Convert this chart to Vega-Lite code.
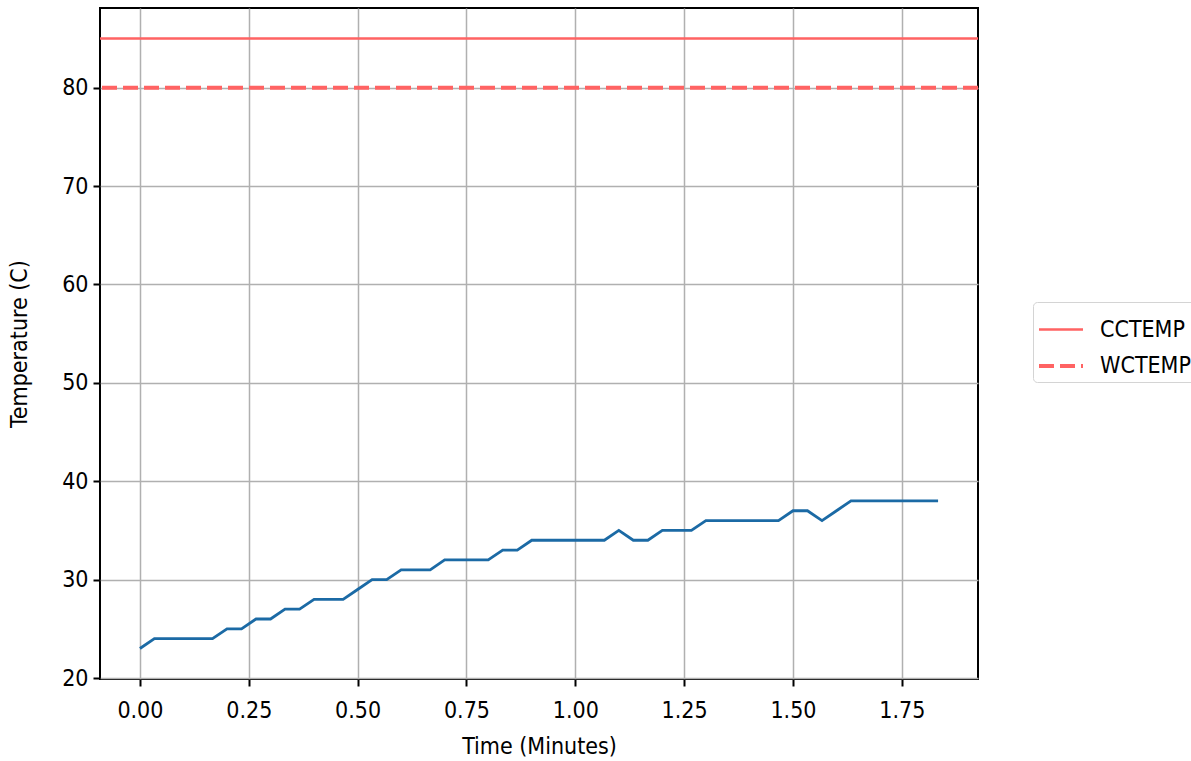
{
  "$schema": "https://vega.github.io/schema/vega-lite/v6.json",
  "width": 878,
  "height": 671,
  "autosize": "none",
  "padding": {"left": 100, "top": 8, "right": 213, "bottom": 82},
  "background": "white",
  "config": {
    "font": "DejaVu Sans Condensed",
    "view": {"stroke": "black", "strokeWidth": 2},
    "axis": {
      "domain": false,
      "grid": true,
      "gridColor": "#b0b0b0",
      "gridWidth": 1.5,
      "tickColor": "black",
      "tickWidth": 2,
      "tickSize": 7,
      "labelFont": "DejaVu Sans Condensed",
      "labelFontSize": 23,
      "labelColor": "black",
      "titleFont": "DejaVu Sans Condensed",
      "titleFontSize": 23,
      "titleFontWeight": "normal",
      "titleColor": "black"
    }
  },
  "datasets": {
    "temps": [
      {"t": 0.0, "temp": 23},
      {"t": 0.0333, "temp": 24},
      {"t": 0.0667, "temp": 24},
      {"t": 0.1, "temp": 24},
      {"t": 0.1333, "temp": 24},
      {"t": 0.1667, "temp": 24},
      {"t": 0.2, "temp": 25},
      {"t": 0.2333, "temp": 25},
      {"t": 0.2667, "temp": 26},
      {"t": 0.3, "temp": 26},
      {"t": 0.3333, "temp": 27},
      {"t": 0.3667, "temp": 27},
      {"t": 0.4, "temp": 28},
      {"t": 0.4333, "temp": 28},
      {"t": 0.4667, "temp": 28},
      {"t": 0.5, "temp": 29},
      {"t": 0.5333, "temp": 30},
      {"t": 0.5667, "temp": 30},
      {"t": 0.6, "temp": 31},
      {"t": 0.6333, "temp": 31},
      {"t": 0.6667, "temp": 31},
      {"t": 0.7, "temp": 32},
      {"t": 0.7333, "temp": 32},
      {"t": 0.7667, "temp": 32},
      {"t": 0.8, "temp": 32},
      {"t": 0.8333, "temp": 33},
      {"t": 0.8667, "temp": 33},
      {"t": 0.9, "temp": 34},
      {"t": 0.9333, "temp": 34},
      {"t": 0.9667, "temp": 34},
      {"t": 1.0, "temp": 34},
      {"t": 1.0333, "temp": 34},
      {"t": 1.0667, "temp": 34},
      {"t": 1.1, "temp": 35},
      {"t": 1.1333, "temp": 34},
      {"t": 1.1667, "temp": 34},
      {"t": 1.2, "temp": 35},
      {"t": 1.2333, "temp": 35},
      {"t": 1.2667, "temp": 35},
      {"t": 1.3, "temp": 36},
      {"t": 1.3333, "temp": 36},
      {"t": 1.3667, "temp": 36},
      {"t": 1.4, "temp": 36},
      {"t": 1.4333, "temp": 36},
      {"t": 1.4667, "temp": 36},
      {"t": 1.5, "temp": 37},
      {"t": 1.5333, "temp": 37},
      {"t": 1.5667, "temp": 36},
      {"t": 1.6, "temp": 37},
      {"t": 1.6333, "temp": 38},
      {"t": 1.6667, "temp": 38},
      {"t": 1.7, "temp": 38},
      {"t": 1.7333, "temp": 38},
      {"t": 1.7667, "temp": 38},
      {"t": 1.8, "temp": 38},
      {"t": 1.8333, "temp": 38}
    ],
    "limits": [
      {"name": "CCTEMP", "value": 85},
      {"name": "WCTEMP", "value": 80}
    ]
  },
  "layer": [
    {
      "data": {"name": "temps"},
      "mark": {"type": "line", "color": "#1b6aa5", "strokeWidth": 2.8},
      "encoding": {
        "x": {
          "field": "t",
          "type": "quantitative",
          "scale": {"domain": [-0.0917, 1.925], "nice": false, "zero": false},
          "axis": {
            "title": "Time (Minutes)",
            "values": [0, 0.25, 0.5, 0.75, 1.0, 1.25, 1.5, 1.75],
            "format": ".2f",
            "labelPadding": 13,
            "titlePadding": 13
          }
        },
        "y": {
          "field": "temp",
          "type": "quantitative",
          "scale": {"domain": [19.9, 88.1], "nice": false, "zero": false},
          "axis": {
            "title": "Temperature (C)",
            "values": [20, 30, 40, 50, 60, 70, 80],
            "format": "d",
            "labelPadding": 5,
            "titlePadding": 30
          }
        }
      }
    },
    {
      "data": {"name": "limits"},
      "mark": {"type": "rule"},
      "encoding": {
        "y": {"field": "value", "type": "quantitative"},
        "color": {
          "field": "name",
          "type": "nominal",
          "scale": {"domain": ["CCTEMP", "WCTEMP"], "range": ["#ff6363", "#ff6363"]},
          "legend": {
            "title": null,
            "orient": "none",
            "legendX": 933,
            "legendY": 294,
            "symbolType": "stroke",
            "symbolSize": 1936,
            "labelFontSize": 23,
            "labelFont": "DejaVu Sans Condensed",
            "labelColor": "black",
            "labelOffset": 15,
            "labelLimit": 300,
            "rowPadding": 0,
            "padding": 4,
            "strokeColor": "#d4d4d4",
            "fillColor": "white",
            "cornerRadius": 4
          }
        },
        "strokeDash": {
          "field": "name",
          "type": "nominal",
          "scale": {"domain": ["CCTEMP", "WCTEMP"], "range": [[1, 0], [15, 6]]},
          "legend": null
        },
        "strokeWidth": {
          "field": "name",
          "type": "nominal",
          "scale": {"domain": ["CCTEMP", "WCTEMP"], "range": [2.5, 4]},
          "legend": null
        }
      }
    }
  ]
}
